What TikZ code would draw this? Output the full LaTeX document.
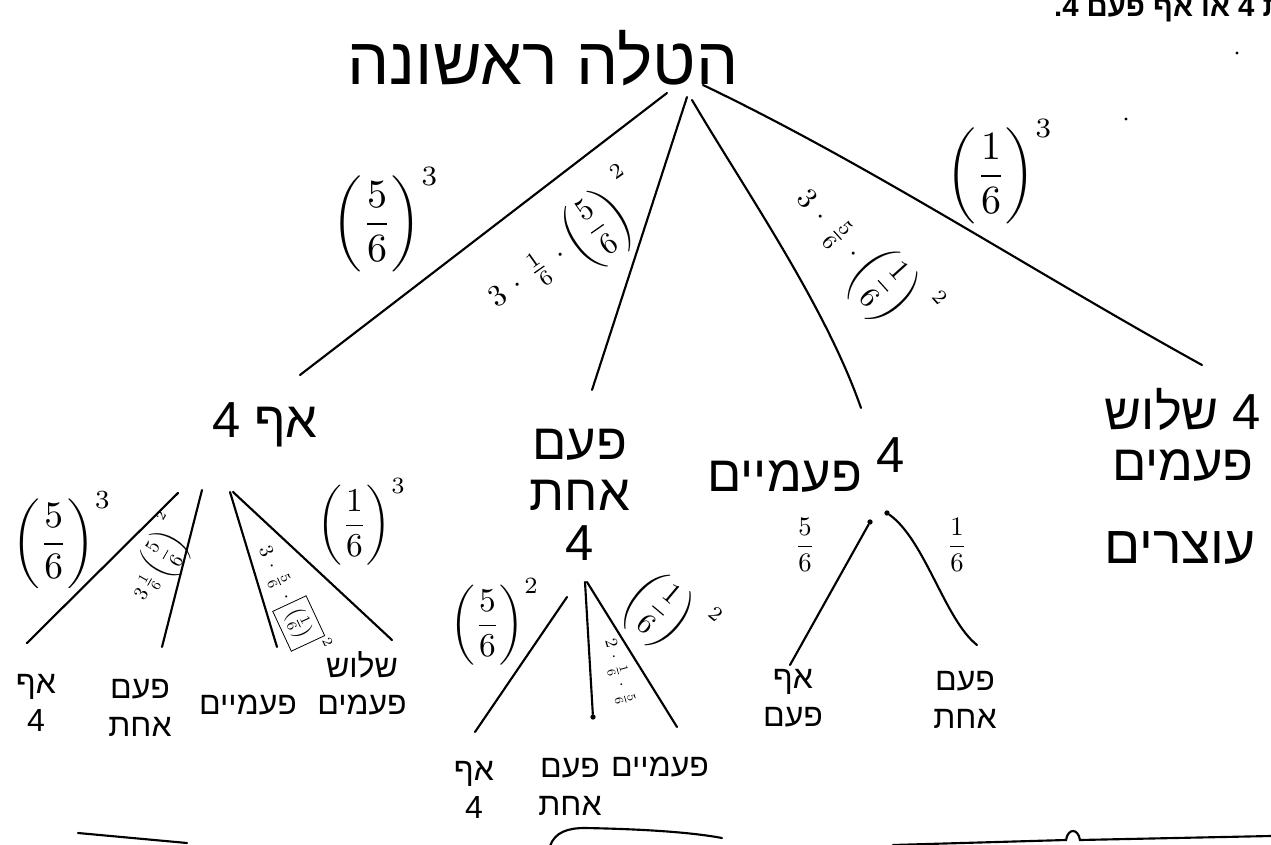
\documentclass[tikz,border=0pt]{standalone}
\usepackage{amsmath}
\usepackage{fontspec}
\newfontfamily\heb[Script=Hebrew]{Liberation Sans}
\TeXXeTstate=1
\tikzset{
  hw/.style={inner sep=0pt, align=center},
  big/.style={hw, font=\heb\fontsize{50}{54}\selectfont},
  lvl/.style={hw, font=\heb\fontsize{38}{38}\selectfont},
  leaf/.style={hw, font=\heb\fontsize{24}{28}\selectfont},
  br/.style={line width=1.6pt, line cap=round},
  frag/.style={line width=1.6pt, line cap=round},
  prob/.style={inner sep=0pt},
  dotm/.style={circle, fill=black, inner sep=0pt, minimum size=4pt},
  speck/.style={circle, fill=black, inner sep=0pt, minimum size=2.5pt},
}
\begin{document}
\begin{tikzpicture}[x=0.75pt,y=-0.75pt]
\useasboundingbox (0,0) rectangle (1271,845);
\fill[white] (0,0) rectangle (1271,845);

% cropped typed line at the top
\node[hw, font=\heb\bfseries\fontsize{22}{24}\selectfont, anchor=base east] (toptxt) at (1284,17) {\beginR ת 4 או אף פעם 4.\endR};
\node[speck] (s1) at (1237,53) {};
\node[speck] (s2) at (1126,119) {};

% root
\node[big] (root) at (543,58) {\beginR הטלה ראשונה\endR};
\coordinate (r1) at (667,93);
\coordinate (r2) at (687,97);
\coordinate (r3) at (692,100);
\coordinate (r4) at (703,85);

% level 1 nodes
\node[lvl] (A) at (265,425) {\beginR אף 4\endR};
\node[lvl] (B) at (580,495) {\beginR פעם\endR\\\beginR אחת\endR\\4};
\node[lvl] (C) at (806,465) {\beginR\raisebox{14pt}{4} פעמיים\endR};
\node[lvl] (D) at (1183,435) {\beginR 4 שלוש\endR\\\beginR פעמים\endR};
\node[hw, font=\heb\fontsize{40}{44}\selectfont] (Dstop) at (1180,548) {\beginR עוצרים\endR};

\coordinate (e1) at (300,375);
\coordinate (e2) at (592,390);
\coordinate (e3) at (861,408);
\coordinate (e4) at (1202,365);

\draw[br] (r1) -- (e1);
\draw[br] (r2) -- (e2);
\draw[br] (r3) .. controls (745,190) and (825,305) .. (e3);
\draw[br] (r4) .. controls (870,165) and (1030,270) .. (e4);

% level 1 probabilities
\node[prob, scale=3] (lt1) at (386,220) {$\left(\dfrac{5}{6}\right)^{3}$};
\node[prob, scale=2.3, rotate=35] (lt2) at (566,247) {$3\,\cdot\,\frac{1}{6}\,\cdot\left(\dfrac{5}{6}\right)^{\,\,2}$};
\node[prob, scale=2.2, rotate=-48] (lt3) at (862,258) {$3\,\cdot\,\frac{5}{6}\,\cdot\left(\dfrac{1}{6}\right)^{\,\,2}$};
\node[prob, scale=3] (lt4) at (1000,172) {$\left(\dfrac{1}{6}\right)^{3}$};

% ---- subtree under A
\coordinate (a1) at (178,493);
\coordinate (a2) at (202,490);
\coordinate (a3) at (230,492);
\coordinate (a4) at (233,492);
\coordinate (a1e) at (27,643);
\coordinate (a2e) at (162,647);
\coordinate (a3e) at (277,647);
\coordinate (a4e) at (392,640);
\draw[br] (a1) -- (a1e);
\draw[br] (a2) -- (a2e);
\draw[br] (a3) -- (a3e);
\draw[br] (a4) -- (a4e);
\node[leaf] (A1) at (36,703) {\beginR אף\endR\\4};
\node[leaf] (A2) at (140,708) {\beginR פעם\endR\\\beginR אחת\endR};
\node[leaf] (A3) at (248,705) {\beginR פעמיים\endR};
\node[leaf] (A4) at (362,683) {\beginR שלוש\endR\\\beginR פעמים\endR};
\node[prob, scale=2.8] (la1) at (62,540) {$\left(\dfrac{5}{6}\right)^{3}$};
\node[prob, scale=1.5, rotate=60] (la2) at (160,560) {$3\,\frac{1}{6}\left(\dfrac{5}{6}\right)^{\,\,2}$};
\node[prob, scale=1.5, rotate=-65] (la3) at (290,600) {$3\,\cdot\,\frac{5}{6}\,\cdot\fbox{$\left(\frac{1}{6}\right)$}^{\,2}$};
\node[prob, scale=2.5] (la4) at (362,522) {$\left(\dfrac{1}{6}\right)^{3}$};

% ---- subtree under B
\coordinate (b1) at (567,597);
\coordinate (b2) at (585,582);
\coordinate (b3) at (587,582);
\coordinate (b1e) at (475,732);
\coordinate (b3e) at (677,727);
\node[dotm] (b2e) at (593,717) {};
\draw[br] (b1) -- (b1e);
\draw[br] (b2) -- (b2e);
\draw[br] (b3) -- (b3e);
\node[leaf] (B1) at (474,790) {\beginR אף\endR\\4};
\node[leaf] (B2) at (570,787) {\beginR פעם\endR\\\beginR אחת\endR};
\node[leaf] (B3) at (660,767) {\beginR פעמיים\endR};
\node[prob, scale=2.5] (lb1) at (495,622) {$\left(\dfrac{5}{6}\right)^{2}$};
\node[prob, scale=1.3, rotate=-75] (lb2) at (618,672) {$2\,\cdot\,\frac{1}{6}\,\cdot\,\frac{5}{6}$};
\node[prob, scale=2.2, rotate=-40] (lb3) at (668,615) {$\left(\dfrac{1}{6}\right)^{\,\,2}$};

% ---- subtree under C
\node[dotm] (c1) at (870,522) {};
\node[dotm] (c2) at (887,513) {};
\coordinate (c1e) at (790,665);
\coordinate (c2e) at (977,645);
\draw[br] (c1) -- (c1e);
\draw[br] (c2) .. controls (925,540) and (945,620) .. (c2e);
\node[leaf] (C1) at (793,698) {\beginR אף\endR\\\beginR פעם\endR};
\node[leaf] (C2) at (965,700) {\beginR פעם\endR\\\beginR אחת\endR};
\node[prob, scale=2] (lc1) at (805,545) {$\dfrac{5}{6}$};
\node[prob, scale=2] (lc2) at (957,545) {$\dfrac{1}{6}$};

% ---- cut-off strokes at the bottom edge
\coordinate (f1a) at (78,833);
\coordinate (f1b) at (187,843);
\draw[frag] (f1a) -- (f1b);
\coordinate (f2a) at (550,846);
\coordinate (f2b) at (585,828);
\coordinate (f2c) at (722,838);
\draw[frag] (f2a) .. controls (555,832) and (568,828) .. (f2b) .. controls (640,829) and (690,832) .. (f2c);
\coordinate (f3a) at (893,845);
\coordinate (f3b) at (1066,840);
\coordinate (f3c) at (1080,840);
\coordinate (f3d) at (1271,836);
\draw[frag] (f3a) -- (f3b) .. controls (1068,828) and (1078,828) .. (f3c) -- (f3d);
\end{tikzpicture}
\end{document}
